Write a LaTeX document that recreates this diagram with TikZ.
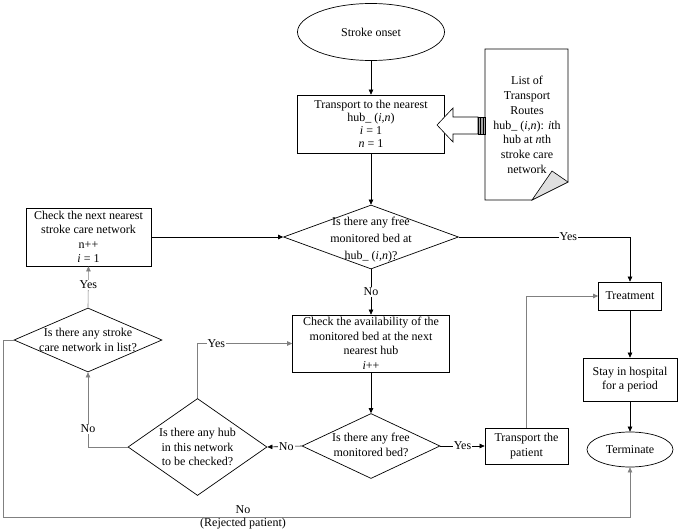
\documentclass[tikz,border=0pt]{standalone}
\usepackage{fontspec}
\setmainfont{Liberation Serif}
\usetikzlibrary{shapes.geometric,arrows.meta,calc}
\begin{document}
\begin{tikzpicture}[x=1pt,y=-1pt,
  every node/.style={font=\fontsize{12}{14.5}\selectfont},
  box/.style={draw, line width=0.7pt, rectangle, inner sep=0pt, align=center},
  dia/.style={draw, line width=0.7pt, diamond, inner sep=0pt},
  ell/.style={draw, line width=0.7pt, ellipse, inner sep=0pt},
  txt/.style={align=center, inner sep=0pt},
  arr/.style={line width=0.6pt, -{Triangle[length=5pt,width=4.5pt]}},
  garr/.style={arr, draw=black!50},
  lbl/.style={fill=white, inner sep=1pt}]
\useasboundingbox (0,0) rectangle (680,532);

% nodes
\node[ell, minimum width=147, minimum height=57] (start) at (371,32) {Stroke onset};
\node[box, minimum width=147, minimum height=58] (trans) at (371,124)
  {Transport to the nearest\\[-1.5pt]hub\_ (\textit{i,n})\\[-1.5pt]\textit{i} = 1\\[-1.5pt]\textit{n} = 1};
\node[dia, minimum width=175, minimum height=64] (d1) at (371,237) {};
\node[txt, font=\fontsize{12}{17}\selectfont] at (371,240) {Is there any free\\monitored bed at\\hub\_ (\textit{i,n})?};
\node[box, minimum width=125, minimum height=58] (nextnet) at (88.5,237)
  {Check the next nearest\\stroke care network\\n++\\\textit{i} = 1};
\node[dia, minimum width=148, minimum height=64] (d2) at (88,340) {};
\node[txt] at (88,340) {Is there any stroke\\care network in list?};
\node[box, minimum width=63, minimum height=28] (treat) at (630,296) {Treatment};
\node[box, minimum width=157, minimum height=57] (check) at (371,343.5)
  {Check the availability of the\\monitored bed at the next\\nearest hub\\\textit{i}++};
\node[dia, minimum width=138, minimum height=65] (d3) at (371,446) {};
\node[txt] at (371,445) {Is there any free\\monitored bed?};
\node[box, minimum width=83, minimum height=36] (tpat) at (526.5,446) {Transport the\\patient};
\node[box, minimum width=94, minimum height=43] (stay) at (630,379.5) {Stay in hospital\\for a period};
\node[ell, minimum width=86, minimum height=35] (term) at (630,449.5) {Terminate};
\node[dia, minimum width=139, minimum height=97] (d4) at (197.5,447) {};
\node[txt] at (197.5,447) {Is there any hub\\in this network\\to be checked?};

% document shape (list of routes)
\draw[line width=0.7pt, fill=white] (485,49) -- (568,49) -- (568,182) -- (532,200) -- (485,200) -- cycle;
\draw[line width=0.6pt, fill=black!12] (552,171) -- (568,182) -- (532,200) -- cycle;
\node[txt, font=\fontsize{12}{14.8}\selectfont] (list) at (527,125)
  {List of\\Transport\\Routes\\hub\_ (\textit{i,n}): \textit{i}th\\hub at \textit{n}th\\stroke care\\network};

% hollow block arrow from list to transport box
\draw[line width=0.6pt, fill=white] (437,125) -- (453,108) -- (453,117) -- (478,117) -- (478,134) -- (453,134) -- (453,142) -- cycle;
\draw[line width=0.6pt, fill=black!35] (478,117) rectangle (485,134);
\draw[line width=0.6pt] (480.5,117) -- (480.5,134) (483,117) -- (483,134);

% connectors
\draw[arr] (start) -- (trans);
\draw[arr] (trans) -- (d1);
\draw[arr] (nextnet) -- (d1.west);
\draw[arr] (d1.east) -| node[lbl, pos=0.32] {Yes} (treat.north);
\draw[arr] (d1.south) -- node[lbl] {No} (check.north);
\draw[arr] (check) -- (d3.north);
\draw[arr] (d3.east) -- node[lbl] {Yes} (tpat.west);
\draw[garr] (tpat.north) |- (treat.west);
\draw[arr] (treat) -- (stay);
\draw[arr] (stay) -- (term);
\draw[arr] (d3.west) -- node[lbl, pos=0.45] {No} (d4.east);
\draw[garr] (d4.west) -| node[lbl, pos=0.62] {No} (d2.south);
\draw[garr] (d4.north) |- node[lbl, pos=0.6] {Yes} (check.west);
\draw[garr] (d2.north) -- node[lbl, pos=0.55] {Yes} (nextnet.south);
\coordinate (rejL) at (3,517);
\draw[garr] (d2.west) -| (rejL) -| (term.south);
\node[txt] (rejno) at (243,510) {No};
\node[txt] (rejtxt) at (243,524) {(Rejected patient)};
\end{tikzpicture}
\end{document}
